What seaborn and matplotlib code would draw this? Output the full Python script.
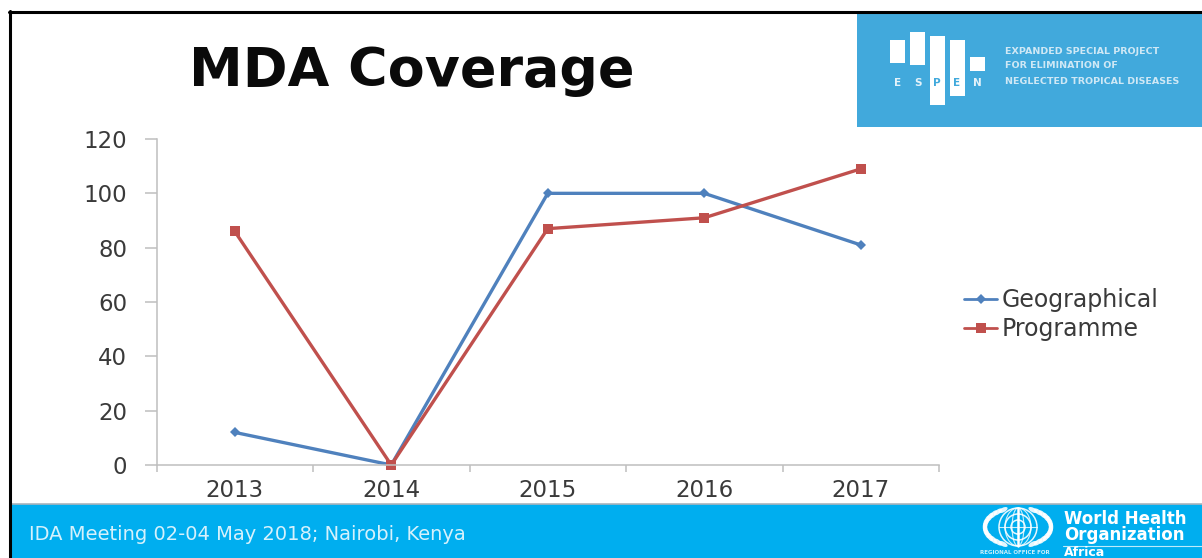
import matplotlib
matplotlib.use("Agg")
import matplotlib.pyplot as plt
import numpy as np
import pandas as pd
import seaborn as sns
from matplotlib.patches import Rectangle, Circle, Ellipse

years = [2013, 2014, 2015, 2016, 2017]
geographical = [12, 0, 100, 100, 81]
programme = [86, 0, 87, 91, 109]
y_ticks = [0, 20, 40, 60, 80, 100, 120]
series_names = ["Geographical", "Programme"]
series_colors = ["#4F81BD", "#C0504D"]
logo_letters = ["E", "S", "P", "E", "N"]
logo_lines = ["EXPANDED SPECIAL PROJECT", "FOR ELIMINATION OF", "NEGLECTED TROPICAL DISEASES"]

W, H = 1202, 558
sns.set_theme(style="white")
plt.rcParams["font.family"] = ["DejaVu Sans"]
fig = plt.figure(figsize=(W / 100, H / 100), dpi=100, facecolor="white")

# Slide furniture, laid out in pixel units on a full-figure axes
bg = fig.add_axes([0, 0, 1, 1], zorder=0)
bg.set_xlim(0, W)
bg.set_ylim(H, 0)
bg.axis("off")
bg.add_patch(Rectangle((11, 504), W - 11, 54, fc="#00AEEF", ec="none"))
bg.plot([11, W], [503.5, 503.5], color="#A9B4BC", lw=1.2)
bg.plot([9, W], [11.5, 11.5], color="black", lw=2.2)
bg.plot([10, 10], [11, H], color="black", lw=2.2)
bg.add_patch(Rectangle((857, 13), W - 857, 114, fc="#41A9DC", ec="none"))

bg.text(189, 71, "MDA Coverage", fontsize=38.8, fontweight="bold",
        color="#0A0A0A", va="center", ha="left")

# ESPEN mark
bars = [(890, 40, 15, 23), (910, 32, 15, 33), (930, 36, 15, 69), (950, 40, 15, 56), (970, 57, 15, 14)]
for x, y, w, h in bars:
    bg.add_patch(Rectangle((x, y), w, h, fc="white", ec="none"))
for lx, letter, col in zip([898, 918, 937, 957, 977], logo_letters,
                           ["#E3F2FA", "#E3F2FA", "#41A9DC", "#41A9DC", "#E3F2FA"]):
    bg.text(lx, 83, letter, fontsize=7.5, fontweight="bold", color=col, ha="center", va="center")
for ly, line in zip([52, 66, 81], logo_lines):
    bg.text(1005, ly, line, fontsize=6.8, fontweight="bold", color="#CFE8F5", ha="left", va="center")

# Footer
bg.text(29, 535, "IDA Meeting 02-04 May 2018; Nairobi, Kenya", fontsize=14,
        color="#D5F1FC", ha="left", va="center")

# WHO emblem
cx, cy = 1018, 527
for r in (7, 13, 19):
    bg.add_patch(Circle((cx, cy), r, fc="none", ec="white", lw=1.1, alpha=0.9))
for half_w in (6, 13):
    bg.add_patch(Ellipse((cx, cy), half_w * 2, 38, fc="none", ec="white", lw=0.8, alpha=0.8))
bg.plot([cx - 19, cx + 19], [cy, cy], color="white", lw=0.8, alpha=0.8)
bg.plot([cx, cx], [508, 546], color="white", lw=1.8)
for side in (-1, 1):
    for t in np.linspace(-1.1, 1.1, 13):
        bg.add_patch(Ellipse((cx + side * 33 * np.cos(t), cy + 19 * np.sin(t)), 10, 4.5,
                             angle=side * np.degrees(t) + 90, fc="white", ec="none", alpha=0.9))
bg.text(1064, 518.5, "World Health", fontsize=12, fontweight="bold", color="white", ha="left", va="center")
bg.text(1064, 535.5, "Organization", fontsize=12, fontweight="bold", color="white", ha="left", va="center")
bg.plot([1063, W], [545.5, 545.5], color="#BDEBFB", lw=0.8)
bg.text(1064, 552, "Africa", fontsize=9, fontweight="bold", color="white", ha="left", va="center")
bg.text(980, 553, "REGIONAL OFFICE FOR", fontsize=4, fontweight="bold", color="#CDEFFB", ha="left", va="center")

# Coverage chart
left, right, top, bottom = 156.5, 939, 139, 465
ax = fig.add_axes([left / W, 1 - bottom / H, (right - left) / W, (bottom - top) / H], zorder=1)
ax.patch.set_alpha(0)
df = pd.DataFrame({
    "Year": years * 2,
    "Coverage": geographical + programme,
    "Series": [series_names[0]] * len(years) + [series_names[1]] * len(years),
})
sns.lineplot(data=df, x="Year", y="Coverage", hue="Series", style="Series",
             palette=series_colors, markers=["D", "s"], dashes=False,
             linewidth=2.4, markersize=6.5, markeredgewidth=0, ax=ax, clip_on=False, legend=False)
ax.lines[0].set_markersize(5)

ax.set_xlim(years[0] - 0.5, years[-1] + 0.5)
ax.set_ylim(y_ticks[0], y_ticks[-1])
ax.set_xlabel("")
ax.set_ylabel("")
ax.set_yticks(y_ticks)
ax.set_xticks(years)
ax.set_xticks(np.arange(years[0] - 0.5, years[-1] + 1), minor=True)
ax.tick_params(axis="y", which="major", left=True, length=9, width=1.1, color="#BFBFBF",
               labelsize=16.5, labelcolor="#3A3A3A", pad=12)
ax.tick_params(axis="x", which="major", bottom=False, labelsize=16.5, labelcolor="#3A3A3A", pad=4)
ax.tick_params(axis="x", which="minor", bottom=True, length=5, width=1.1, color="#BFBFBF")
sns.despine(ax=ax)
for s in ("left", "bottom"):
    ax.spines[s].set_color("#BFBFBF")
    ax.spines[s].set_linewidth(1.1)

# Legend
handles = [
    plt.Line2D([], [], color=series_colors[0], marker="D", ms=5, mew=0, lw=2),
    plt.Line2D([], [], color=series_colors[1], marker="s", ms=6.5, mew=0, lw=2),
]
fig.legend(handles, series_names, loc="center left", bbox_to_anchor=(964 / W, 1 - 314.5 / H),
           frameon=False, fontsize=17, labelcolor="#3A3A3A", handlelength=1.4,
           handletextpad=0.18, labelspacing=0.2, borderpad=0, borderaxespad=0)

fig.savefig("out.png", dpi=100)
